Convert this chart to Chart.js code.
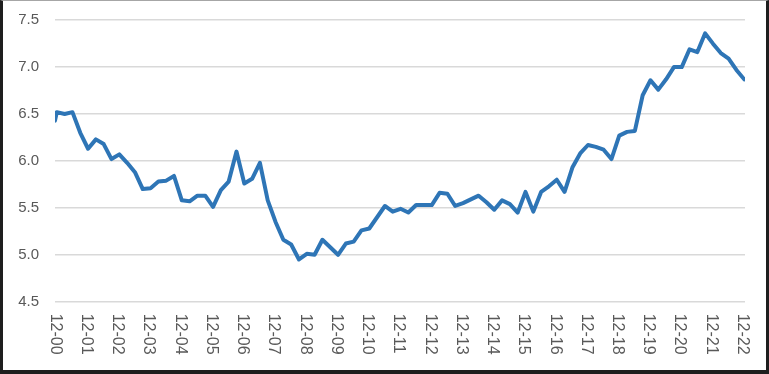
<!DOCTYPE html>
<html>
<head>
<meta charset="utf-8">
<script src="https://cdn.jsdelivr.net/npm/chart.js@4"></script>
<style>
  html, body { margin: 0; padding: 0; background: #ffffff; }
  #wrap { position: absolute; left: 0; top: 0; width: 769px; height: 374px; }
  #c { position: absolute; left: 0; top: 0; }
  #frame { position: absolute; left: 0; top: 0; width: 769px; height: 374px; box-sizing: border-box;
    border-left: 3px solid #1e1e1e; border-top: 1px solid #a6a6a6; border-right: 3px solid #1e1e1e; border-bottom: 4px solid #1e1e1e;
    pointer-events: none; }
</style>
</head>
<body>
<div id="wrap">
  <canvas id="c" width="769" height="374"></canvas>
  <div id="frame"></div>
</div>
<script>
// Year tick labels (mm-yy), one per 12 months starting Dec 2000
const tickLabels = ['12-00','12-01','12-02','12-03','12-04','12-05','12-06','12-07','12-08','12-09','12-10','12-11',
  '12-12','12-13','12-14','12-15','12-16','12-17','12-18','12-19','12-20','12-21','12-22'];

// Observation times in months after Dec 2000: an opening observation, then quarterly observations
const obsMonths = [0].concat(Array.from({length: 89}, (_, i) => 0.7 + 3 * i));

// Series values
const seriesValues = [6.43,
  6.52, 6.50, 6.52, 6.30, 6.13, 6.23, 6.18, 6.02, 6.07, 5.98,
  5.88, 5.70, 5.71, 5.78, 5.79, 5.84, 5.58, 5.57, 5.63, 5.63,
  5.51, 5.69, 5.78, 6.10, 5.76, 5.81, 5.98, 5.58, 5.35, 5.16,
  5.11, 4.95, 5.01, 5.00, 5.16, 5.08, 5.00, 5.12, 5.14, 5.26,
  5.28, 5.40, 5.52, 5.46, 5.49, 5.45, 5.53, 5.53, 5.53, 5.66,
  5.65, 5.52, 5.55, 5.59, 5.63, 5.56, 5.48, 5.58, 5.54, 5.45,
  5.67, 5.46, 5.67, 5.73, 5.80, 5.67, 5.93, 6.08, 6.17, 6.15,
  6.12, 6.02, 6.27, 6.31, 6.32, 6.70, 6.86, 6.76, 6.87, 7.00,
  7.00, 7.19, 7.16, 7.36, 7.25, 7.15, 7.09, 6.97, 6.87];

const yTicks = [4.5, 5.0, 5.5, 6.0, 6.5, 7.0, 7.5];

const points = seriesValues.map((v, i) => ({x: obsMonths[i], y: v}));

const rotatedXLabels = {
  id: 'rotatedXLabels',
  afterDraw(chart) {
    const xs = chart.scales.x;
    const ctx = chart.ctx;
    ctx.save();
    ctx.fillStyle = '#595959';
    ctx.font = '16px "Liberation Sans", Arial, sans-serif';
    ctx.textAlign = 'left';
    ctx.textBaseline = 'middle';
    const top = chart.chartArea.bottom + 12;
    tickLabels.forEach((lab, i) => {
      const px = xs.getPixelForValue(i * 12);
      ctx.save();
      ctx.translate(px, top);
      ctx.rotate(Math.PI / 2);
      ctx.fillText(lab, 0, 0);
      ctx.restore();
    });
    ctx.restore();
  }
};

new Chart(document.getElementById('c'), {
  type: 'line',
  data: {
    datasets: [{
      data: points,
      borderColor: '#2e75b6',
      backgroundColor: '#2e75b6',
      borderWidth: 4,
      pointRadius: 0,
      tension: 0,
      borderJoinStyle: 'round',
      borderCapStyle: 'round',
      fill: false
    }]
  },
  options: {
    responsive: false,
    animation: false,
    events: [],
    layout: { padding: { left: 0, right: 24, top: 20.2, bottom: 72.3 } },
    plugins: { legend: { display: false }, tooltip: { enabled: false } },
    scales: {
      x: {
        type: 'linear',
        min: 0,
        max: 265,
        grid: { display: false, drawTicks: false },
        border: { display: false },
        ticks: { display: false },
        afterFit(s) { s.height = 0; s.paddingLeft = 0; s.paddingRight = 0; }
      },
      y: {
        min: 4.5,
        max: 7.5,
        afterBuildTicks(s) { s.ticks = yTicks.map(v => ({value: v})); },
        afterFit(s) { s.width = 55; s.paddingTop = 0; s.paddingBottom = 0; },
        grid: { color: '#d9d9d9', lineWidth: 1.5, drawTicks: false },
        border: { display: false },
        ticks: {
          padding: 16,
          color: '#595959',
          font: { family: '"Liberation Sans", Arial, sans-serif', size: 15 },
          callback: v => v.toFixed(1)
        }
      }
    }
  },
  plugins: [rotatedXLabels]
});
</script>
</body>
</html>
